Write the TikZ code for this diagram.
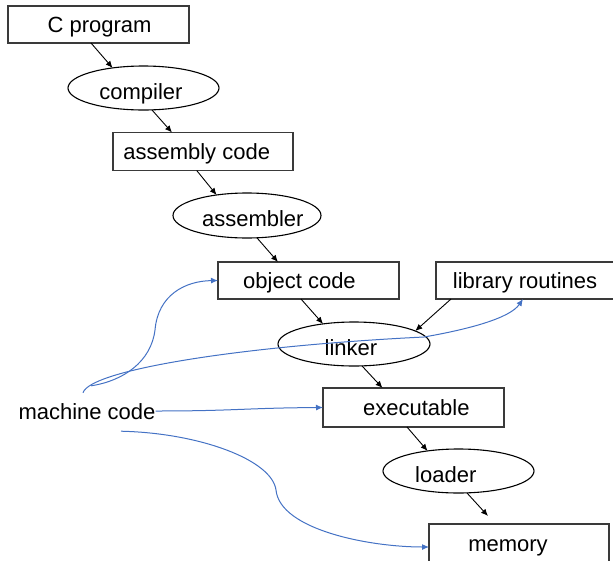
\documentclass[tikz,border=0pt]{standalone}
\usepackage{fontspec}
\setmainfont{Liberation Sans}
\usetikzlibrary{shapes.geometric,arrows.meta}
\definecolor{lineblue}{HTML}{4472C4}
\definecolor{boxgray}{HTML}{3A3A3A}
\begin{document}
\begin{tikzpicture}[x=1pt,y=-1pt,
  font=\fontsize{22pt}{26pt}\selectfont,
  box/.style={draw=boxgray, line width=1.2pt, rectangle, inner sep=0pt, outer sep=0pt, text height=16pt, text depth=0pt},
  oval/.style={draw=black, line width=1.1pt, ellipse, inner sep=0pt, outer sep=0pt, text height=22pt, text depth=0pt, minimum width=151pt, minimum height=44pt},
  shl/.style={execute at begin node={\hspace*{-#1}}},
  shr/.style={execute at end node={\hspace*{-#1}}},
  flow/.style={-{Latex[length=7pt,width=6pt]}, line width=0.9pt, black},
  mach/.style={-{Latex[length=7pt,width=6pt]}, line width=1pt, lineblue},
]
\useasboundingbox (0,0) rectangle (613,560);

\node[box, minimum width=181pt, minimum height=37pt, shr=2pt] (cp) at (98.5,24.5) {C program};
\node[oval, shl=5pt] (comp) at (143.5,88) {compiler};
\node[box, minimum width=180pt, minimum height=38pt, shl=12.6pt] (asm) at (203,151.5) {assembly code};
\node[oval, minimum width=148pt, minimum height=45pt, shr=11.6pt] (asmr) at (247,215.5) {assembler};
\node[box, minimum width=181pt, minimum height=37pt, shl=18pt] (obj) at (308.5,280.5) {object code};
\node[box, minimum width=178pt, minimum height=37pt] (lib) at (525,280.5) {library routines};
\node[oval, minimum width=152pt, shl=6pt] (link) at (354,344) {linker};
\node[box, minimum width=181pt, minimum height=39pt, shr=5.6pt] (exe) at (413.5,407.5) {executable};
\node[oval, shl=25.4pt] (load) at (458.5,471) {loader};
\node[box, minimum width=180pt, minimum height=38pt, shl=22pt] (mem) at (519,543) {memory};
\node[inner sep=0pt, text height=16pt, text depth=0pt] (mc) at (87,411) {machine code};

\draw[flow] ([xshift=-7.5pt]cp.south) -- (comp.147);
\draw[flow] (comp.-69) -- ([xshift=-31pt]asm.north);
\draw[flow] ([xshift=-6.3pt]asm.south) -- (asmr.146);
\draw[flow] (asmr.-66) -- ([xshift=-30.5pt]obj.north);
\draw[flow] ([xshift=-7.5pt]obj.south) -- (link.147);
\draw[flow] ([xshift=-74pt]lib.south) -- (link.12);
\draw[flow] (link.-70) -- ([xshift=-31pt]exe.north);
\draw[flow] ([xshift=-6.5pt]exe.south) -- (load.147);
\draw[flow] (load.-69) -- ([xshift=-31pt,yshift=8pt]mem.north);

\draw[mach] ([xshift=4pt,yshift=17pt]mc.north) .. controls (123,381) and (151,362) .. (155,330)
  .. controls (158,295) and (185,281) .. (obj.west);
\draw[mach] ([xshift=-4pt,yshift=10pt]mc.north) .. controls (90,370) and (240,346) .. (424,337)
  .. controls (470,329) and (510,318) .. ([xshift=-2pt]lib.south);
\draw[mach] (mc.east) .. controls (235,411) and (245,408) .. (exe.west);
\draw[mach] ([xshift=34pt,yshift=-12pt]mc.south) .. controls (200,433) and (272,460) .. (276,490)
  .. controls (280,530) and (370,547) .. ([yshift=-4pt]mem.west);
\end{tikzpicture}
\end{document}
